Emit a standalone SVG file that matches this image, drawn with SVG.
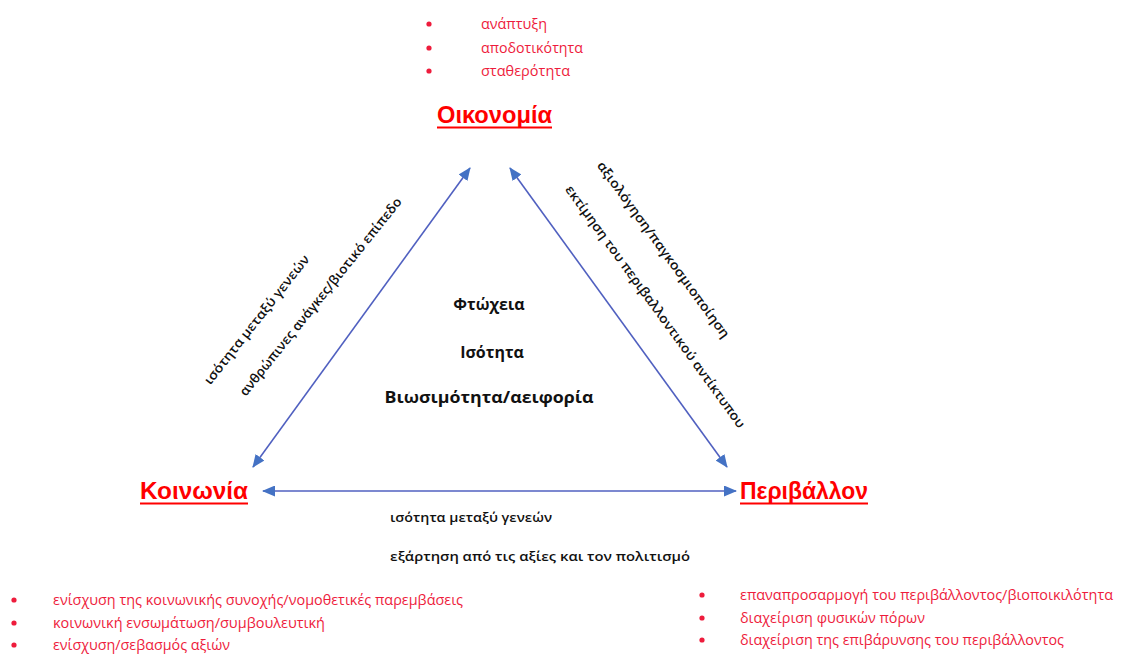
<svg xmlns="http://www.w3.org/2000/svg" width="1121" height="669" viewBox="0 0 1121 669">
<style>
.title{font-family:"Liberation Sans",Arial,sans-serif;font-weight:bold;font-size:24px;fill:#ff0000}
.ul{stroke:#ff0000;stroke-width:2}
.bul{font-family:"Open Sans","Liberation Sans",sans-serif;font-size:14px;fill:#ee1c3c}
.dot{fill:#ee1c3c}
.lbl{font-family:"Open Sans","Liberation Sans",sans-serif;font-weight:600;font-size:13px;fill:#111}
.ctr{font-family:"Open Sans","Liberation Sans",sans-serif;font-weight:bold;font-size:16px;fill:#111;text-anchor:middle}
.conn{stroke:#5060c0;stroke-width:1.6;fill:none;marker-start:url(#ah);marker-end:url(#ah)}
</style>
<defs>
<marker id="ah" viewBox="0 0 13 11" refX="12" refY="5.5" markerWidth="13" markerHeight="11" markerUnits="userSpaceOnUse" orient="auto-start-reverse">
<path d="M0,0 L13,5.5 L0,11 Z" fill="#4472c4"/>
</marker>
</defs>
<rect width="1121" height="669" fill="#ffffff"/>

<g id="connectors">
<line class="conn" x1="253" y1="467" x2="470" y2="168"/>
<line class="conn" x1="727" y1="467" x2="510" y2="168"/>
<line class="conn" x1="263" y1="491" x2="736" y2="491"/>
</g>

<g id="oikonomia">
<circle class="dot" cx="429" cy="24" r="2.6"/>
<circle class="dot" cx="429" cy="48" r="2.6"/>
<circle class="dot" cx="429" cy="71" r="2.6"/>
<text class="bul" x="481" y="29" textLength="66" lengthAdjust="spacingAndGlyphs">ανάπτυξη</text>
<text class="bul" x="481" y="53" textLength="102" lengthAdjust="spacingAndGlyphs">αποδοτικότητα</text>
<text class="bul" x="481" y="76" textLength="89" lengthAdjust="spacingAndGlyphs">σταθερότητα</text>
<text class="title" x="437" y="123" textLength="115" lengthAdjust="spacingAndGlyphs">Οικονομία</text>
<line class="ul" x1="437" y1="127.5" x2="552" y2="127.5"/>
</g>

<g id="koinonia">
<text class="title" x="140" y="499" textLength="108" lengthAdjust="spacingAndGlyphs">Κοινωνία</text>
<line class="ul" x1="140" y1="503.5" x2="248" y2="503.5"/>
<circle class="dot" cx="14" cy="600" r="2.6"/>
<circle class="dot" cx="14" cy="623" r="2.6"/>
<circle class="dot" cx="14" cy="645" r="2.6"/>
<text class="bul" x="53" y="605" textLength="410" lengthAdjust="spacingAndGlyphs">ενίσχυση της κοινωνικής συνοχής/νομοθετικές παρεμβάσεις</text>
<text class="bul" x="53" y="628" textLength="272" lengthAdjust="spacingAndGlyphs">κοινωνική ενσωμάτωση/συμβουλευτική</text>
<text class="bul" x="53" y="650" textLength="177" lengthAdjust="spacingAndGlyphs">ενίσχυση/σεβασμός αξιών</text>
</g>

<g id="perivallon">
<text class="title" x="740" y="499" textLength="128" lengthAdjust="spacingAndGlyphs">Περιβάλλον</text>
<line class="ul" x1="740" y1="503.5" x2="868" y2="503.5"/>
<circle class="dot" cx="702" cy="595" r="2.6"/>
<circle class="dot" cx="702" cy="618" r="2.6"/>
<circle class="dot" cx="702" cy="640" r="2.6"/>
<text class="bul" x="740" y="600" textLength="373" lengthAdjust="spacingAndGlyphs">επαναπροσαρμογή του περιβάλλοντος/βιοποικιλότητα</text>
<text class="bul" x="740" y="623" textLength="185" lengthAdjust="spacingAndGlyphs">διαχείριση φυσικών πόρων</text>
<text class="bul" x="740" y="645" textLength="324" lengthAdjust="spacingAndGlyphs">διαχείριση της επιβάρυνσης του περιβάλλοντος</text>
</g>

<g id="center">
<text class="ctr" x="489" y="310">Φτώχεια</text>
<text class="ctr" x="492" y="358">Ισότητα</text>
<text class="ctr" x="489" y="403" textLength="209" lengthAdjust="spacingAndGlyphs">Βιωσιμότητα/αειφορία</text>
</g>

<g id="labels">
<text class="lbl" transform="translate(257,320) rotate(-51.6)" x="0" y="4" text-anchor="middle" textLength="161" lengthAdjust="spacingAndGlyphs">ισότητα μεταξύ γενεών</text>
<text class="lbl" transform="translate(321,297) rotate(-51.2)" x="0" y="4" text-anchor="middle" textLength="250" lengthAdjust="spacingAndGlyphs">ανθρώπινες ανάγκες/βιοτικό επίπεδο</text>
<text class="lbl" transform="translate(663,250) rotate(53.9)" x="0" y="4" text-anchor="middle" textLength="215" lengthAdjust="spacingAndGlyphs">αξιολόγηση/παγκοσμιοποίηση</text>
<text class="lbl" transform="translate(655,307) rotate(54)" x="0" y="4" text-anchor="middle" textLength="296" lengthAdjust="spacingAndGlyphs">εκτίμηση του περιβαλλοντικού αντίκτυπου</text>
<text class="lbl" x="390" y="522" textLength="162" lengthAdjust="spacingAndGlyphs">ισότητα μεταξύ γενεών</text>
<text class="lbl" x="390" y="561" textLength="300" lengthAdjust="spacingAndGlyphs">εξάρτηση από τις αξίες και τον πολιτισμό</text>
</g>
</svg>
